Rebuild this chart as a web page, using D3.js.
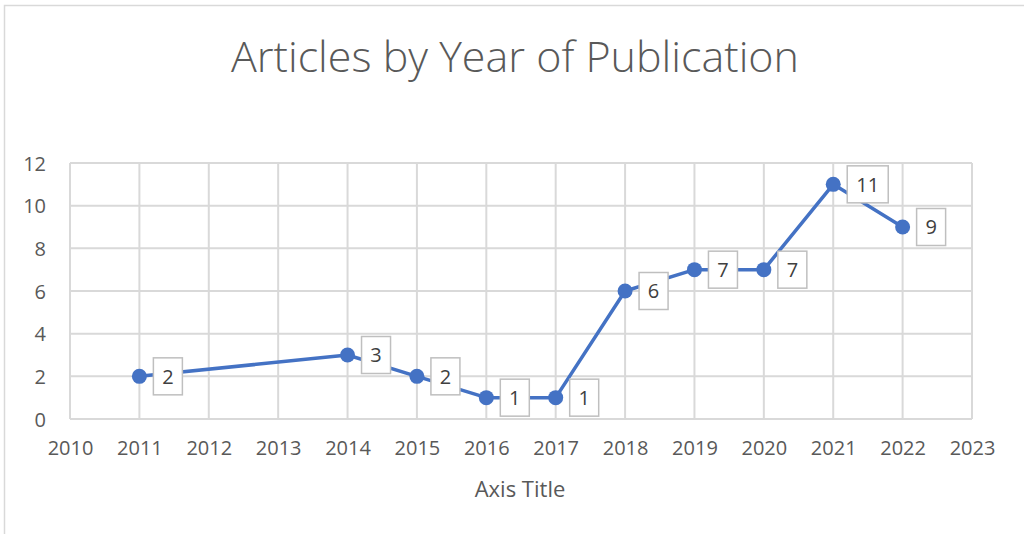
<!DOCTYPE html>
<html>
<head>
<meta charset="utf-8">
<script src="https://cdn.jsdelivr.net/npm/d3@7"></script>
<style>
  body { margin: 0; background: #fff; }
  svg { display: block; font-family: "Open Sans", "Noto Sans", sans-serif; }
</style>
</head>
<body>
<svg id="chart"></svg>
<script>
const years = [2011, 2014, 2015, 2016, 2017, 2018, 2019, 2020, 2021, 2022];
const articles = [2, 3, 2, 1, 1, 6, 7, 7, 11, 9];
const xTicks = d3.range(2010, 2024);
const yTicks = [0, 2, 4, 6, 8, 10, 12];

const width = 1024, height = 534;
const margin = {top: 163, right: 52, bottom: 115, left: 70};
const innerW = width - margin.left - margin.right;
const innerH = height - margin.top - margin.bottom;

const svg = d3.select('#chart')
    .attr('width', width)
    .attr('height', height);

// chart area border
svg.append('rect')
    .attr('x', 4.5).attr('y', 5.5)
    .attr('width', 1040).attr('height', 560)
    .attr('fill', 'none')
    .attr('stroke', '#d9d9d9')
    .attr('stroke-width', 1.5);

svg.append('text')
    .attr('x', 515).attr('y', 72)
    .attr('text-anchor', 'middle')
    .attr('fill', '#595959')
    .style('font-size', '43px')
    .style('font-weight', 300)
    .text('Articles by Year of Publication');

const chart = svg.append('g')
    .attr('transform', `translate(${margin.left},${margin.top})`);

const x = d3.scaleLinear().domain([2010, 2023]).range([0, innerW]);
const y = d3.scaleLinear().domain([0, 12]).range([innerH, 0]);

// gridlines
chart.append('g')
    .selectAll('line')
    .data(yTicks)
    .join('line')
    .attr('x1', 0).attr('x2', innerW)
    .attr('y1', d => y(d)).attr('y2', d => y(d))
    .attr('stroke', '#d9d9d9').attr('stroke-width', 2);

chart.append('g')
    .selectAll('line')
    .data(xTicks)
    .join('line')
    .attr('x1', d => x(d)).attr('x2', d => x(d))
    .attr('y1', 0).attr('y2', innerH)
    .attr('stroke', '#d9d9d9').attr('stroke-width', 2);

// axes (labels only)
const xAxis = d3.axisBottom(x).tickValues(xTicks).tickFormat(d3.format('d')).tickSize(0).tickPadding(22);
const yAxis = d3.axisLeft(y).tickValues(yTicks).tickSize(0).tickPadding(24);

const xAxisG = chart.append('g')
    .attr('transform', `translate(0,${innerH})`)
    .call(xAxis);
const yAxisG = chart.append('g').call(yAxis);

[xAxisG, yAxisG].forEach(g => {
  g.select('.domain').remove();
  g.selectAll('text')
      .attr('fill', '#595959')
      .style('font-size', '20px')
      .style('font-family', '"Open Sans", sans-serif');
});
yAxisG.selectAll('text').attr('dy', '0.35em');

svg.append('text')
    .attr('x', 520).attr('y', 497)
    .attr('text-anchor', 'middle')
    .attr('fill', '#595959')
    .style('font-size', '22px')
    .text('Axis Title');

// series
const data = years.map((yr, i) => ({year: yr, value: articles[i]}));

chart.append('path')
    .datum(data)
    .attr('fill', 'none')
    .attr('stroke', '#4472c4')
    .attr('stroke-width', 3.5)
    .attr('stroke-linejoin', 'round')
    .attr('d', d3.line().x(d => x(d.year)).y(d => y(d.value)));

chart.selectAll('.dot')
    .data(data)
    .join('circle')
    .attr('class', 'dot')
    .attr('cx', d => x(d.year))
    .attr('cy', d => y(d.value))
    .attr('r', 7.5)
    .attr('fill', '#4472c4');

// data labels
const labels = chart.selectAll('.lbl')
    .data(data)
    .join('g')
    .attr('class', 'lbl')
    .attr('transform', d => `translate(${x(d.year) + 14},${y(d.value)})`);

labels.append('rect')
    .attr('x', 0)
    .attr('y', -18.5)
    .attr('width', d => String(d.value).length > 1 ? 41 : 29)
    .attr('height', 37)
    .attr('fill', '#fff')
    .attr('stroke', '#bfbfbf')
    .attr('stroke-width', 1.5);

labels.append('text')
    .attr('x', d => (String(d.value).length > 1 ? 41 : 29) / 2)
    .attr('dy', '0.36em')
    .attr('text-anchor', 'middle')
    .attr('fill', '#404040')
    .style('font-size', '20px')
    .text(d => d.value);
</script>
</body>
</html>
